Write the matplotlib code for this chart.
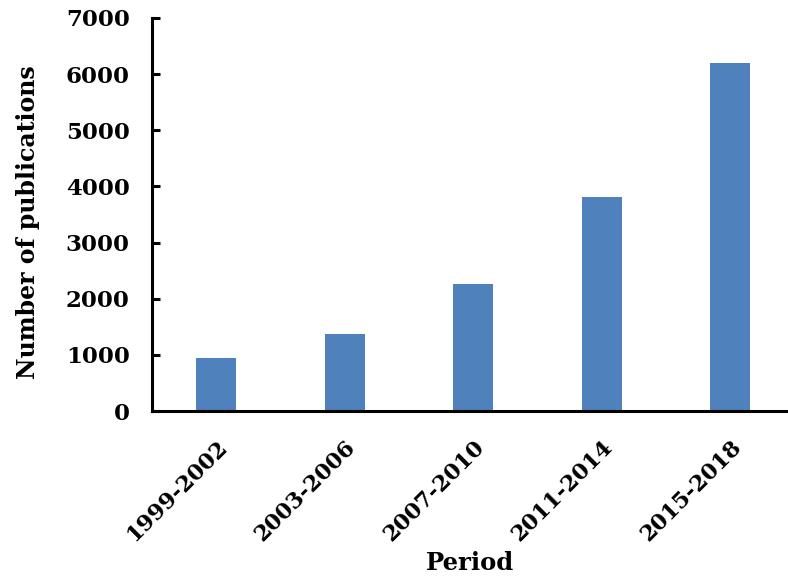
import matplotlib.pyplot as plt

periods = ["1999-2002", "2003-2006", "2007-2010", "2011-2014", "2015-2018"]
publications = [945, 1375, 2265, 3815, 6205]

plt.rcParams['font.family'] = 'DejaVu Serif'
plt.rcParams['font.weight'] = 'bold'

fig = plt.figure(figsize=(7.88, 5.79), dpi=100)
ax = fig.add_axes([0.193, 0.290, 0.807, 0.679])

x = range(len(periods))
ax.bar(x, publications, width=0.31, color="#4F81BD")

ax.set_xlim(-0.5, 4.45)
ax.set_ylim(0, 7000)
ax.set_yticks(range(0, 7001, 1000))
ax.set_xticks(list(x))
ax.set_xticklabels(periods, rotation=45, ha="right", rotation_mode="anchor",
                   fontsize=16, fontweight="bold")
for lbl in ax.get_yticklabels():
    lbl.set_fontsize(16.5)
    lbl.set_fontweight("bold")

ax.tick_params(axis="y", direction="in", length=6, width=2.2, pad=16)
ax.tick_params(axis="x", length=0, pad=18)

for side in ["top", "right"]:
    ax.spines[side].set_visible(False)
for side in ["left", "bottom"]:
    ax.spines[side].set_linewidth(2.2)

ax.set_ylabel("Number of publications", fontsize=17, fontweight="bold")
ax.yaxis.set_label_coords(-0.177, 0.48)
ax.set_xlabel("Period", fontsize=17.5, fontweight="bold", labelpad=4)

fig.savefig("out.png", dpi=100)
